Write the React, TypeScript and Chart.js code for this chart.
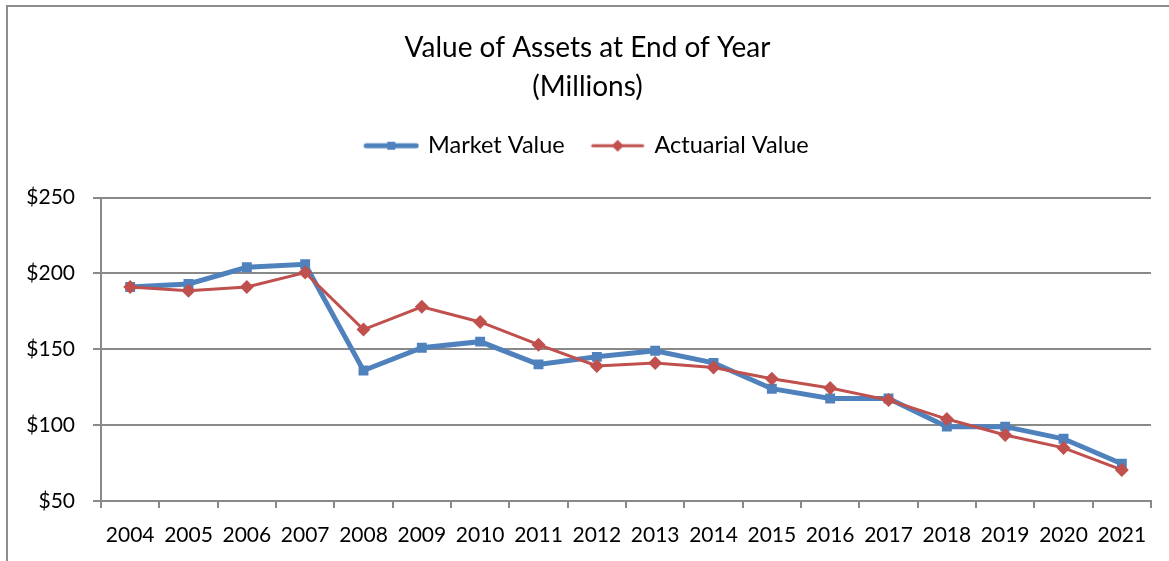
import React, { useEffect, useRef } from "react";
import { Chart, registerables } from "chart.js";

Chart.register(...registerables);

const years = ["2004", "2005", "2006", "2007", "2008", "2009", "2010", "2011", "2012", "2013", "2014", "2015", "2016", "2017", "2018", "2019", "2020", "2021"];
const marketValue = [191, 193, 204, 206, 136, 151, 155, 140, 145, 149, 141, 124, 117.5, 117.5, 99, 99, 91, 74.5];
const actuarialValue = [191, 188.5, 191, 200.5, 163, 178, 168, 153, 139, 141, 138, 130.5, 124.5, 116.5, 104, 93.5, 85, 70.5];
const titleLines = ["Value of Assets at End of Year", "(Millions)"];
const seriesNames = ["Market Value", "Actuarial Value"];

const BLUE = "#4F81BD";
const RED = "#C0504D";
const GRID = "#898989";
const FONT = "Lato, 'Open Sans', sans-serif";

function legendImage(color: string, lineWidth: number, marker: "rect" | "diamond"): HTMLCanvasElement {
  const c = document.createElement("canvas");
  c.width = 56;
  c.height = 14;
  const ctx = c.getContext("2d")!;
  ctx.strokeStyle = color;
  ctx.fillStyle = color;
  ctx.lineWidth = lineWidth;
  ctx.lineCap = "round";
  ctx.beginPath();
  ctx.moveTo(3, 7);
  ctx.lineTo(53, 7);
  ctx.stroke();
  if (marker === "rect") {
    ctx.fillRect(24, 3, 8, 8);
  } else {
    ctx.beginPath();
    ctx.moveTo(28, 1);
    ctx.lineTo(34, 7);
    ctx.lineTo(28, 13);
    ctx.lineTo(22, 7);
    ctx.closePath();
    ctx.fill();
  }
  return c;
}

export default function App() {
  const ref = useRef<HTMLCanvasElement | null>(null);

  useEffect(() => {
    document.body.style.margin = "0";
    const canvas = ref.current;
    if (!canvas) return;
    const imgs = [legendImage(BLUE, 5, "rect"), legendImage(RED, 3, "diamond")];
    const chart = new Chart(canvas, {
      type: "line",
      data: {
        labels: years,
        datasets: [
          {
            label: seriesNames[0],
            data: marketValue,
            borderColor: BLUE,
            backgroundColor: BLUE,
            borderWidth: 5,
            pointStyle: "rect",
            pointRadius: 7,
            pointBorderWidth: 0,
            pointBackgroundColor: BLUE,
            tension: 0,
            order: 2,
          },
          {
            label: seriesNames[1],
            data: actuarialValue,
            borderColor: RED,
            backgroundColor: RED,
            borderWidth: 3,
            pointStyle: "rectRot",
            pointRadius: 7,
            pointBorderWidth: 0,
            pointBackgroundColor: RED,
            tension: 0,
            order: 1,
          },
        ],
      },
      options: {
        animation: false,
        responsive: false,
        layout: { padding: { left: 24, right: 18, top: 0, bottom: 0 } },
        plugins: {
          tooltip: { enabled: false },
          title: {
            display: true,
            text: titleLines,
            color: "#000",
            font: { family: FONT, size: 28, weight: "normal", lineHeight: "39px" as any },
            padding: { top: 28, bottom: 0 },
          },
          legend: {
            display: true,
            position: "top",
            labels: {
              color: "#000",
              font: { family: FONT, size: 23.5 },
              usePointStyle: true,
              pointStyleWidth: 50,
              padding: 28,
              generateLabels: () =>
                seriesNames.map((name, i) => ({
                  text: name,
                  pointStyle: imgs[i] as any,
                  fillStyle: i === 0 ? BLUE : RED,
                  strokeStyle: i === 0 ? BLUE : RED,
                  lineWidth: 0,
                  hidden: false,
                  datasetIndex: i,
                  fontColor: "#000",
                })),
            },
          },
        },
        scales: {
          x: {
            type: "category",
            offset: true,
            grid: {
              offset: true,
              drawOnChartArea: false,
              drawTicks: true,
              tickLength: 7,
              color: GRID,
              lineWidth: 2,
            },
            border: { display: true, color: GRID, width: 2 },
            ticks: {
              color: "#000",
              font: { family: FONT, size: 21 },
              padding: 15,
              maxRotation: 0,
              autoSkip: false,
            },
            afterFit: (s: any) => {
              s.height = 60;
            },
          },
          xTop: {
            type: "category",
            position: "top",
            display: true,
            grid: { display: false, drawTicks: false },
            border: { display: false },
            ticks: { display: false },
            afterFit: (s: any) => {
              s.height = 30;
            },
          },
          y: {
            min: 50,
            max: 250,
            grid: {
              color: GRID,
              lineWidth: 2,
              drawTicks: true,
              tickLength: 8,
            },
            border: { display: true, color: GRID, width: 2 },
            ticks: {
              stepSize: 50,
              color: "#000",
              font: { family: FONT, size: 21 },
              padding: 18,
              callback: (v: any) => "$" + v,
            },
            afterFit: (s: any) => {
              s.width = 77;
            },
          },
        },
      },
    });
    return () => chart.destroy();
  }, []);

  return (
    <div style={{ position: "fixed", left: 0, top: 0, width: 1169, height: 561, overflow: "hidden", background: "#fff" }}>
      <div
        style={{
          position: "absolute",
          left: 6,
          top: 5,
          width: 1200,
          height: 600,
          border: "2px solid #8c8c8c",
          boxSizing: "border-box",
        }}
      />
      <canvas ref={ref} width={1169} height={561} style={{ position: "absolute", left: 0, top: 0, width: 1169, height: 561 }} />
    </div>
  );
}
